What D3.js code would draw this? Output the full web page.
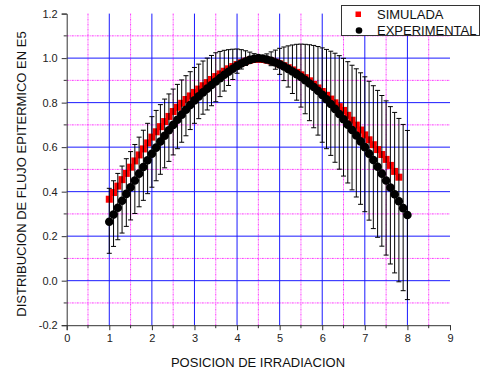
<!DOCTYPE html>
<html>
<head>
<meta charset="utf-8">
<script src="https://cdn.jsdelivr.net/npm/d3@7"></script>
<style>
  body { margin: 0; background: #fff; }
  svg { display: block; font-family: Arial, "Liberation Sans", sans-serif; }
</style>
</head>
<body>
<svg id="chart" width="481" height="374"></svg>
<script>
// Axis ticks
const xTicks = [0, 1, 2, 3, 4, 5, 6, 7, 8, 9];
const yTicks = [-0.2, 0.0, 0.2, 0.4, 0.6, 0.8, 1.0, 1.2];
const xMinorGrid = [0.5, 1.5, 2.5, 3.5, 4.5, 5.5, 6.5, 7.5, 8.5];
const yMinorGrid = [-0.1, 0.1, 0.3, 0.5, 0.7, 0.9, 1.1];

// SIMULADA: irradiation positions and epithermal flux
const simPos = [1.0,1.1,1.2,1.3,1.4,1.5,1.6,1.7,1.8,1.9,2.0,2.1,2.2,2.3,2.4,2.5,2.6,2.7,2.8,2.9,
  3.0,3.1,3.2,3.3,3.4,3.5,3.6,3.7,3.8,3.9,4.0,4.1,4.2,4.3,4.4,4.5,4.6,4.7,4.8,4.9,
  5.0,5.1,5.2,5.3,5.4,5.5,5.6,5.7,5.8,5.9,6.0,6.1,6.2,6.3,6.4,6.5,6.6,6.7,6.8,6.9,
  7.0,7.1,7.2,7.3,7.4,7.5,7.6,7.7,7.8];
const simFlux = [0.366,0.396,0.425,0.454,0.482,0.510,0.538,0.565,0.592,0.619,
  0.645,0.669,0.692,0.715,0.738,0.760,0.779,0.797,0.814,0.830,
  0.846,0.861,0.876,0.890,0.904,0.917,0.929,0.941,0.952,0.962,
  0.971,0.979,0.986,0.991,0.994,0.995,0.994,0.991,0.987,0.981,
  0.974,0.966,0.957,0.947,0.936,0.925,0.912,0.898,0.882,0.866,
  0.850,0.833,0.816,0.799,0.782,0.765,0.743,0.721,0.699,0.677,
  0.655,0.633,0.611,0.589,0.567,0.545,0.518,0.491,0.465];

// EXPERIMENTAL: positions, flux and error bars
const expPos = [1.0,1.1,1.2,1.3,1.4,1.5,1.6,1.7,1.8,1.9,2.0,2.1,2.2,2.3,2.4,2.5,2.6,2.7,2.8,2.9,
  3.0,3.1,3.2,3.3,3.4,3.5,3.6,3.7,3.8,3.9,4.0,4.1,4.2,4.3,4.4,4.5,4.6,4.7,4.8,4.9,
  5.0,5.1,5.2,5.3,5.4,5.5,5.6,5.7,5.8,5.9,6.0,6.1,6.2,6.3,6.4,6.5,6.6,6.7,6.8,6.9,
  7.0,7.1,7.2,7.3,7.4,7.5,7.6,7.7,7.8,7.9,8.0];
const expFlux = [0.265,0.297,0.328,0.359,0.390,0.420,0.450,0.481,0.511,0.541,
  0.570,0.598,0.625,0.651,0.676,0.700,0.723,0.746,0.768,0.789,
  0.810,0.828,0.846,0.863,0.879,0.895,0.910,0.925,0.939,0.952,
  0.965,0.976,0.985,0.992,0.997,1.000,0.998,0.994,0.988,0.980,
  0.972,0.962,0.951,0.940,0.928,0.915,0.901,0.886,0.870,0.853,
  0.835,0.815,0.794,0.772,0.749,0.725,0.701,0.677,0.652,0.626,
  0.600,0.571,0.542,0.512,0.481,0.450,0.419,0.388,0.357,0.326,0.295];
const expErrPlus = [0.150,0.152,0.154,0.156,0.158,0.160,0.162,0.164,0.165,0.166,
  0.167,0.167,0.166,0.165,0.163,0.161,0.159,0.156,0.153,0.150,
  0.148,0.145,0.141,0.137,0.133,0.129,0.120,0.110,0.099,0.088,
  0.076,0.062,0.048,0.035,0.023,0.004,0.012,0.025,0.040,0.056,
  0.072,0.088,0.104,0.119,0.134,0.148,0.161,0.174,0.187,0.199,
  0.211,0.224,0.237,0.250,0.262,0.274,0.283,0.291,0.300,0.308,
  0.316,0.325,0.334,0.343,0.351,0.358,0.363,0.368,0.372,0.376,0.380];
const expErrMinus = [0.142,0.143,0.144,0.145,0.146,0.147,0.148,0.149,0.150,0.150,
  0.150,0.149,0.147,0.144,0.140,0.135,0.130,0.124,0.117,0.110,
  0.103,0.100,0.098,0.096,0.093,0.091,0.083,0.073,0.062,0.048,
  0.033,0.025,0.018,0.012,0.006,0.004,0.008,0.015,0.022,0.030,
  0.045,0.063,0.081,0.099,0.117,0.135,0.151,0.167,0.183,0.199,
  0.213,0.222,0.231,0.240,0.248,0.255,0.262,0.269,0.276,0.283,
  0.290,0.299,0.308,0.317,0.326,0.335,0.344,0.353,0.362,0.371,0.380];

const seriesNames = ["SIMULADA", "EXPERIMENTAL"];

const svg = d3.select("#chart");
const x = d3.scaleLinear().domain([0, 9]).range([66.7, 450]);
const y = d3.scaleLinear().domain([-0.2, 1.2]).range([325.2, 13.6]);

// Grid: dotted magenta at half steps, solid blue at major steps
const grid = svg.append("g");
grid.selectAll(".xm").data(xMinorGrid).join("line")
  .attr("x1", d => x(d)).attr("x2", d => x(d))
  .attr("y1", y(1.2)).attr("y2", y(-0.2))
  .attr("stroke", "#ff33ff").attr("stroke-width", 1)
  .attr("stroke-dasharray", "2,1,1,1");
grid.selectAll(".ym").data(yMinorGrid).join("line")
  .attr("x1", x(0)).attr("x2", x(9))
  .attr("y1", d => y(d)).attr("y2", d => y(d))
  .attr("stroke", "#ff33ff").attr("stroke-width", 1)
  .attr("stroke-dasharray", "2,1,1,1");
grid.selectAll(".xM").data(xTicks.filter(d => d > 0 && d < 9)).join("line")
  .attr("x1", d => x(d)).attr("x2", d => x(d))
  .attr("y1", y(1.2)).attr("y2", y(-0.2))
  .attr("stroke", "#1a1aff").attr("stroke-width", 1);
grid.selectAll(".yM").data(yTicks.filter(d => d > -0.2 && d < 1.2)).join("line")
  .attr("x1", x(0)).attr("x2", x(9))
  .attr("y1", d => y(d)).attr("y2", d => y(d))
  .attr("stroke", "#1a1aff").attr("stroke-width", 1);

// Axes
const xAxis = svg.append("g").attr("transform", `translate(0,${y(-0.2)})`)
  .call(d3.axisBottom(x).tickValues(xTicks).tickFormat(d3.format("d")).tickSize(5).tickPadding(4));
const yAxis = svg.append("g").attr("transform", `translate(${x(0)},0)`)
  .call(d3.axisLeft(y).tickValues(yTicks).tickFormat(d3.format(".1f")).tickSize(5).tickPadding(4));
[xAxis, yAxis].forEach(a => {
  a.select(".domain").attr("stroke", "#333").attr("stroke-width", 1);
  a.selectAll(".tick line").attr("stroke", "#333");
  a.selectAll(".tick text").attr("fill", "#222").style("font-size", "11px")
    .style("font-family", "Arial, 'Liberation Sans', sans-serif");
});
yAxis.selectAll(".tick text").text(d => d3.format(".1f")(d).replace("−", "-"));
// minor ticks
svg.append("g").selectAll("line").data(xMinorGrid).join("line")
  .attr("x1", d => x(d)).attr("x2", d => x(d))
  .attr("y1", y(-0.2)).attr("y2", y(-0.2) + 3).attr("stroke", "#333");
svg.append("g").selectAll("line").data(yMinorGrid).join("line")
  .attr("x1", x(0) - 3).attr("x2", x(0))
  .attr("y1", d => y(d)).attr("y2", d => y(d)).attr("stroke", "#333");

// Axis titles
svg.append("text").attr("x", 258).attr("y", 367).attr("text-anchor", "middle")
  .attr("fill", "#111").style("font-size", "13px").text("POSICION DE IRRADIACION");
svg.append("text").attr("transform", "translate(26,174) rotate(-90)")
  .attr("text-anchor", "middle").attr("fill", "#111").style("font-size", "13px")
  .text("DISTRIBUCION DE FLUJO EPITERMICO EN E5");

// Simulated series
const simData = simPos.map((p, i) => ({ p, v: simFlux[i] }));
svg.append("g").selectAll("rect").data(simData).join("rect")
  .attr("x", d => x(d.p) - 3.5).attr("y", d => y(d.v) - 3.5)
  .attr("width", 7).attr("height", 7).attr("fill", "#ff0000");

// Experimental error bars
const expData = expPos.map((p, i) => ({ p, v: expFlux[i], hi: expFlux[i] + expErrPlus[i], lo: expFlux[i] - expErrMinus[i] }));
const eb = svg.append("g").attr("stroke", "#000").attr("stroke-width", 1);
eb.selectAll(".v").data(expData).join("line")
  .attr("x1", d => x(d.p)).attr("x2", d => x(d.p))
  .attr("y1", d => y(d.hi)).attr("y2", d => y(d.lo));
eb.selectAll(".t").data(expData).join("line")
  .attr("x1", d => x(d.p) - 2.5).attr("x2", d => x(d.p) + 2.5)
  .attr("y1", d => y(d.hi)).attr("y2", d => y(d.hi));
eb.selectAll(".b").data(expData).join("line")
  .attr("x1", d => x(d.p) - 2.5).attr("x2", d => x(d.p) + 2.5)
  .attr("y1", d => y(d.lo)).attr("y2", d => y(d.lo));

// Experimental markers
svg.append("g").selectAll("circle").data(expData).join("circle")
  .attr("cx", d => x(d.p)).attr("cy", d => y(d.v)).attr("r", 4.3).attr("fill", "#000");

// Legend
const lg = svg.append("g");
lg.append("rect").attr("x", 341.5).attr("y", 5.5).attr("width", 138).attr("height", 30)
  .attr("fill", "#fff").attr("stroke", "#333").attr("stroke-width", 1);
lg.append("rect").attr("x", 355.5).attr("y", 11.5).attr("width", 5.5).attr("height", 5.5).attr("fill", "#ff0000");
lg.append("circle").attr("cx", 359).attr("cy", 30.5).attr("r", 3.3).attr("fill", "#000");
lg.selectAll("text").data(seriesNames).join("text")
  .attr("x", 377).attr("y", (d, i) => 18.5 + i * 16)
  .attr("fill", "#111").style("font-size", "13px").text(d => d);
</script>
</body>
</html>
